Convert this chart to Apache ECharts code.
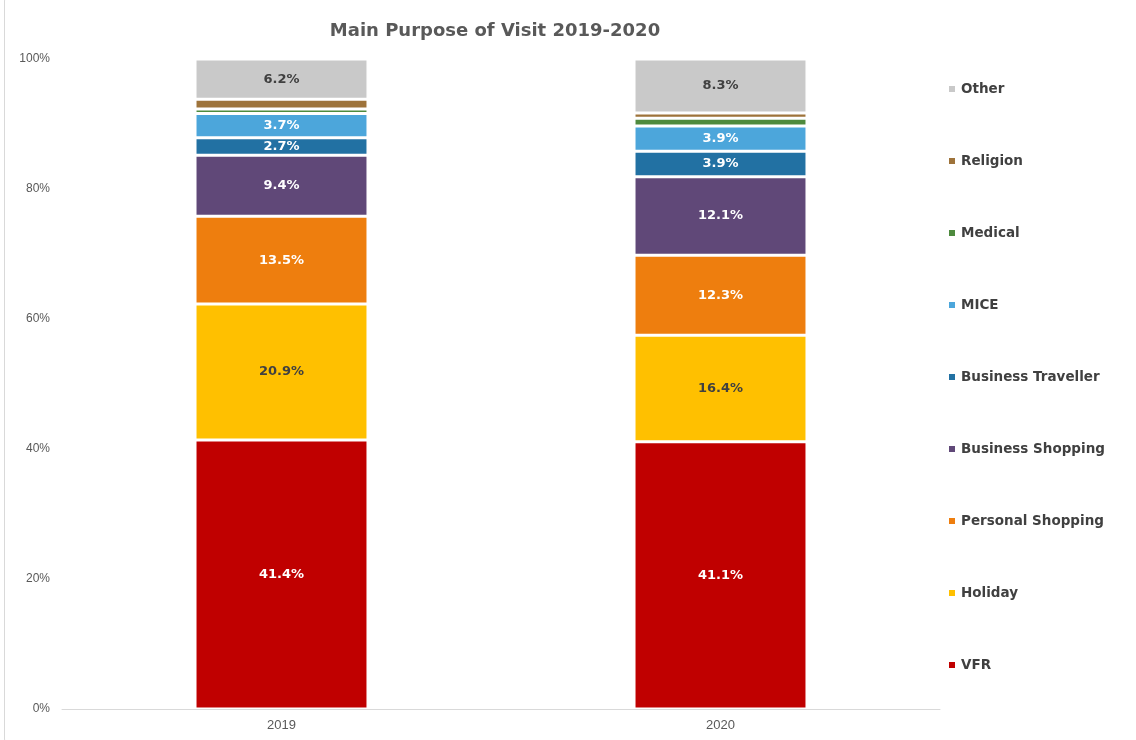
<!DOCTYPE html>
<html><head><meta charset="utf-8">
<script src="https://cdn.jsdelivr.net/npm/echarts@6/dist/echarts.min.js"></script>
<style>html,body{margin:0;padding:0;background:#fff}#c{width:1136px;height:740px}</style>
</head><body><div id="c"></div>
<script>
var categories = ['2019', '2020'];
var seriesNames = ['VFR','Holiday','Personal Shopping','Business Shopping','Business Traveller','MICE','Medical','Religion','Other'];
var vfr = [41.4, 41.1];
var holiday = [20.9, 16.4];
var personalShopping = [13.5, 12.3];
var businessShopping = [9.4, 12.1];
var businessTraveller = [2.7, 3.9];
var mice = [3.7, 3.9];
var medical = [0.7, 1.2];
var religion = [1.5, 0.8];
var other = [6.2, 8.3];
var yTicks = [0, 20, 40, 60, 80, 100];

var values = [vfr, holiday, personalShopping, businessShopping, businessTraveller, mice, medical, religion, other];
var colors = ['#C00000','#FFC000','#EE7E0E','#604878','#2271A3','#4CA6DB','#4E8A3E','#9E733A','#C9C9C9'];
var labelColors = ['#fff','#404040','#fff','#fff','#fff','#fff',null,null,'#404040'];

var series = seriesNames.map(function(n, i){
  return {
    name: n, type: 'bar', stack: 'total', barWidth: '39.4%',
    data: values[i],
    itemStyle: {color: colors[i], borderColor: '#fff', borderWidth: 1.5},
    label: labelColors[i] ? {show: true, position: 'inside', color: labelColors[i],
      fontFamily: 'DejaVu Sans', fontWeight: 'bold', fontSize: 13,
      formatter: function(p){ return p.value.toFixed(1) + '%'; }} : {show: false}
  };
});

var chart = echarts.init(document.getElementById('c'));
chart.setOption({
  animation: false,
  title: {text: 'Main Purpose of Visit 2019-2020', left: 490, top: 17, textAlign: 'center',
    textStyle: {fontFamily: 'DejaVu Sans', fontWeight: 'bold', fontSize: 18, color: '#595959'}},
  grid: {left: 62, right: 196, top: 59, bottom: 31},
  legend: {
    orient: 'vertical', left: 942, top: 76, itemGap: 56, itemWidth: 8, itemHeight: 8, icon: 'rect',
    data: seriesNames.slice().reverse(),
    textStyle: {fontFamily: 'DejaVu Sans', fontWeight: 'bold', fontSize: 13.5, color: '#404040', lineHeight: 16}
  },
  xAxis: {type: 'category', data: categories,
    axisLine: {lineStyle: {color: '#D9D9D9', width: 1}}, axisTick: {show: false},
    axisLabel: {color: '#595959', fontFamily: 'Liberation Sans', fontSize: 13, margin: 10}},
  yAxis: {type: 'value', min: 0, max: 100, interval: 20,
    axisLine: {show: false}, axisTick: {show: false}, splitLine: {show: false},
    axisLabel: {color: '#595959', fontFamily: 'Liberation Sans', fontSize: 12, margin: 12,
      formatter: function(v){ return yTicks.indexOf(v) >= 0 ? v + '%' : ''; }}},
  graphic: [{type: 'rect', shape: {x: 4.5, y: -5, width: 1140, height: 750, r: 6},
    style: {fill: 'none', stroke: '#D9D9D9', lineWidth: 1}, silent: true}],
  series: series
});
</script></body></html>
